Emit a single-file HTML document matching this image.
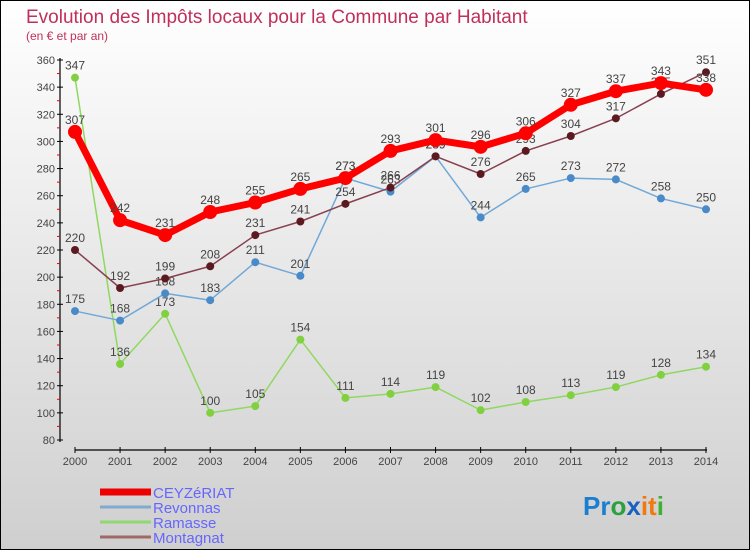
<!DOCTYPE html>
<html><head><meta charset="utf-8"><style>
html,body{margin:0;padding:0}
body{width:750px;height:550px;overflow:hidden;font-family:"Liberation Sans",sans-serif}
</style></head><body>
<svg id="chart" width="750" height="550" xmlns="http://www.w3.org/2000/svg">
<defs><linearGradient id="bg" x1="0" y1="0" x2="0" y2="1"><stop offset="0" stop-color="#ffffff"/><stop offset="1" stop-color="#cfcfcf"/></linearGradient></defs>
<rect x="0.5" y="0.5" width="749" height="549" fill="url(#bg)" stroke="#000"/>
<text x="26" y="23" font-size="19" fill="#c0305a">Evolution des Impôts locaux pour la Commune par Habitant</text>
<text x="26" y="40" font-size="12" fill="#c0305a">(en € et par an)</text>
<g id="axes"></g>
<g id="series"></g>
<g id="legend"></g>
<text x="583" y="515" font-size="26" font-weight="bold"><tspan fill="#1a7fd0">Pr</tspan><tspan fill="#2aa040">o</tspan><tspan fill="#1a60c0">x</tspan><tspan fill="#f07a10">it</tspan><tspan fill="#40b030">i</tspan></text>
</svg>
<script>
const years=[2000,2001,2002,2003,2004,2005,2006,2007,2008,2009,2010,2011,2012,2013,2014];
const yTicks=[80,100,120,140,160,180,200,220,240,260,280,300,320,340,360];
const ceyzeriat=[307,242,231,248,255,265,273,293,301,296,306,327,337,343,338];
const revonnas=[175,168,188,183,211,201,273,263,289,244,265,273,272,258,250];
const ramasse=[347,136,173,100,105,154,111,114,119,102,108,113,119,128,134];
const montagnat=[220,192,199,208,231,241,254,266,289,276,293,304,317,335,351];
const NS="http://www.w3.org/2000/svg";
const x=i=>75+i*(706-75)/(years.length-1);
const y=v=>440-(v-80)*(380/280);
function mk(tag,attrs,parent,txt){const e=document.createElementNS(NS,tag);for(const k in attrs)e.setAttribute(k,attrs[k]);if(txt!==undefined)e.textContent=txt;parent.appendChild(e);return e;}
const axes=document.getElementById('axes');
let e=mk('line',{x1:60,y1:58,x2:60,y2:442,stroke:'#000','stroke-width':1.2},axes);

e=mk('line',{x1:75,y1:450,x2:707,y2:450,stroke:'#000','stroke-width':1.2},axes);

yTicks.forEach(v=>{
  mk('line',{x1:57,y1:y(v),x2:63,y2:y(v),stroke:'#000'},axes);
  e=mk('text',{x:55,y:y(v)+4,'font-size':11,fill:'#444','text-anchor':'end'},axes,v);
  
  if(v<360)mk('line',{x1:57,y1:y(v+10),x2:60,y2:y(v+10),stroke:'#e00'},axes);
});
years.forEach((yr,i)=>{
  mk('line',{x1:x(i),y1:447,x2:x(i),y2:453,stroke:'#000'},axes);
  e=mk('text',{x:x(i),y:465,'font-size':11,fill:'#444','text-anchor':'middle'},axes,yr);
  
});
const sg=document.getElementById('series');
function series(name,data,color,lw,dotc,r,lblc){
  const g=mk('g',{},sg);
  
  const l=mk('polyline',{points:data.map((v,i)=>x(i)+','+y(v)).join(' '),fill:'none',stroke:color,'stroke-width':lw,'stroke-linejoin':'round'},g);
  
  data.forEach((v,i)=>{
    const c=mk('circle',{cx:x(i),cy:y(v),r:r,fill:dotc},g);
    
    const t=mk('text',{x:x(i),y:y(v)-8,'font-size':12,fill:'#444','text-anchor':'middle'},g,v);
    
  });
}
series('ramasse',ramasse,'#90d860',1.5,'#80d040',4);
series('revonnas',revonnas,'#70a8d8',1.5,'#4a8ac8',4);
series('montagnat',montagnat,'#884050',1.5,'#5a1a20',4);
series('ceyzeriat',ceyzeriat,'#ff0000',7,'#ff0000',7);
const lg=document.getElementById('legend');
const items=[['CEYZéRIAT','#ee0000',7],['Revonnas','#80aad0',3],['Ramasse','#90d870',3],['Montagnat','#a06868',3]];
items.forEach((it,i)=>{
  const yy=492+i*15;
  const g=mk('g',{},lg);
  
  mk('line',{x1:100,y1:yy,x2:151,y2:yy,stroke:it[1],'stroke-width':it[2]},g);
  mk('text',{x:153,y:yy+6,'font-size':15,fill:'#6666ff'},g,it[0]);
});
</script>
</body></html>
